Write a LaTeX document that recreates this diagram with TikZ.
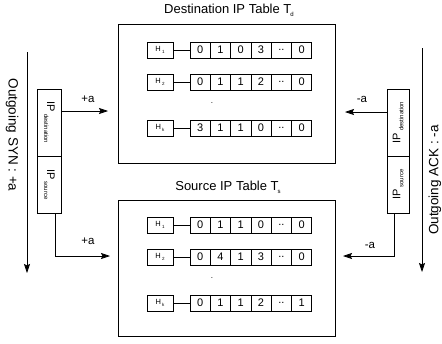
\documentclass[tikz,border=0pt]{standalone}
\usepackage{fontspec}
\setmainfont{Liberation Sans}
\usetikzlibrary{arrows.meta}

% small lowered subscript in text fonts
\newcommand\lowsub[3]{\raisebox{#1}{\fontsize{#2}{#2}\selectfont #3}}
% one table row: header box, link, and six counter cells
\newcommand\iprow[4]{%
  \node[hbox] (#1h) at (160,#2) {H\,\lowsub{-1.8pt}{4.5}{#3}};
  \foreach \v [count=\i] in {#4}
    \node[cell] (#1c\i) at ({190+20.3*(\i-0.5)},#2) {\v};
  \draw[thin line] (#1h.east) -- (#1c1.west);
}

\begin{document}
\begin{tikzpicture}[x=1pt,y=-1pt,
  box/.style={draw,line width=0.8pt,inner sep=0pt},
  thin line/.style={line width=0.7pt},
  hbox/.style={box,minimum width=26pt,minimum height=16pt,font=\fontsize{7.5}{8}\selectfont},
  cell/.style={box,minimum width=20.3pt,minimum height=16pt,font=\fontsize{11}{12}\selectfont},
  tablebox/.style={box,minimum width=217pt},
  title/.style={font=\fontsize{13}{14}\selectfont,inner sep=0pt},
  sign/.style={font=\fontsize{11.5}{12}\selectfont,inner sep=0pt},
  side/.style={font=\fontsize{13.5}{14}\selectfont,inner sep=0pt},
  ipcell/.style={box,minimum width=24pt},
  iptext/.style={inner sep=0pt},
  arr/.style={line width=0.7pt,-{Stealth[length=9pt,width=6pt,inset=1.5pt]}},
]
\useasboundingbox (0,0) rectangle (442,343);

% ---- destination table ----
\node[tablebox,minimum height=139pt] (dtab) at (226.5,93.5) {};
\node[title] (dtitle) at (229,10) {Destination IP Table T\kern-1pt\lowsub{-3pt}{6}{d}};
\iprow{d1}{50}{1}{0,1,0,3,{..},0}
\iprow{d2}{82}{2}{0,1,1,2,{..},0}
\node[inner sep=0pt,font=\fontsize{8}{8}\selectfont] (ddot) at (212,103) {.};
\iprow{dk}{128}{k}{3,1,1,0,{..},0}

% ---- source table ----
\node[tablebox,minimum height=136pt] (stab) at (226.5,268) {};
\node[title] (stitle) at (228,187) {Source IP Table T\kern-1pt\lowsub{-3pt}{6}{s}};
\iprow{s1}{225}{1}{0,1,1,0,{..},0}
\iprow{s2}{257}{2}{0,4,1,3,{..},0}
\node[inner sep=0pt,font=\fontsize{8}{8}\selectfont] (sdot) at (212,278) {.};
\iprow{sk}{303}{k}{0,1,1,2,{..},1}

% ---- SYN side (left) ----
\node[ipcell,minimum height=67pt] (syndst) at (49.5,122.5) {};
\node[ipcell,minimum height=57pt] (synsrc) at (49.5,184.5) {};
\node[iptext,rotate=-90] (syndsttxt) at (syndst) {\fontsize{11}{12}\selectfont IP\,\lowsub{-3pt}{6}{destination}};
\node[iptext,rotate=-90] (synsrctxt) at (synsrc) {\fontsize{11}{12}\selectfont IP\,\lowsub{-3pt}{6}{source}};

\coordinate (syntop) at (27,52);
\coordinate (synbot) at (27,273);
\draw[arr] (syntop) -- (synbot);
\node[side,rotate=-90] (synlabel) at (12,135) {Outgoing SYN : +a};

\coordinate (dstin) at (108,111);
\coordinate (srcin) at (110,256);
\draw[arr] (syndst.east |- dstin) -- (dstin);
\draw[arr] ([xshift=5.5pt]synsrc.south) |- (srcin);
\node[sign] (plusa1) at (88,99) {+a};
\node[sign] (plusa2) at (88,241) {+a};

% ---- ACK side (right) ----
\node[ipcell,minimum width=22pt,minimum height=67pt] (ackdst) at (398,122.5) {};
\node[ipcell,minimum width=22pt,minimum height=57pt] (acksrc) at (398,184.5) {};
\node[iptext,rotate=90] (ackdsttxt) at (ackdst) {\fontsize{11}{12}\selectfont IP\,\lowsub{-3pt}{6}{destination}};
\node[iptext,rotate=90] (acksrctxt) at (acksrc) {\fontsize{11}{12}\selectfont IP\,\lowsub{-3pt}{6}{source}};

\coordinate (acktop) at (422,48);
\coordinate (ackbot) at (422,272);
\draw[arr] (acktop) -- (ackbot);
\node[side,rotate=90] (acklabel) at (435,180) {Outgoing ACK : -a};

\coordinate (dstout) at (345,112);
\coordinate (srcout) at (343,256);
\draw[arr] (ackdst.west |- dstout) -- (dstout);
\draw[arr] ([xshift=-4pt]acksrc.south) |- (srcout);
\node[sign] (minusa1) at (362,99) {-a};
\node[sign] (minusa2) at (370,245) {-a};
\end{tikzpicture}
\end{document}
